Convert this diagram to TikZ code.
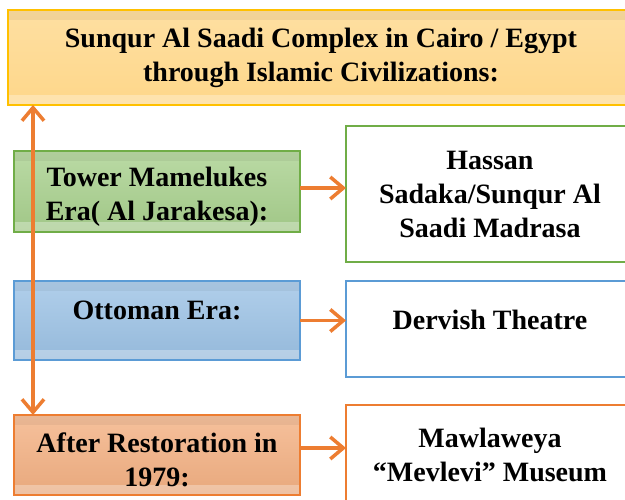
\documentclass[tikz,border=0pt]{standalone}
\usepackage{fontspec}
\setmainfont{Liberation Serif}
\usepackage{tikz}
\usetikzlibrary{arrows.meta}

\definecolor{goldfill}{HTML}{FED78A}
\definecolor{goldline}{HTML}{FFC000}
\definecolor{greenfill}{HTML}{A9D18E}
\definecolor{greenline}{HTML}{70AD47}
\definecolor{bluefill}{HTML}{9DC3E6}
\definecolor{blueline}{HTML}{5B9BD5}
\definecolor{orangefill}{HTML}{F4B183}
\definecolor{orangeline}{HTML}{ED7D31}

\begin{document}
\begin{tikzpicture}[x=1pt, y=-1pt, >={Straight Barb[length=13pt,width=22pt]},
  every node/.style={rectangle, draw, align=center, inner sep=0pt, outer sep=0pt, font=\bfseries\fontsize{28}{34}\selectfont},
  bands/.style={path picture={
    \fill [black, opacity=0.05] (path picture bounding box.north west) rectangle ([yshift=-10pt]path picture bounding box.north east);
    \fill [white, opacity=0.3] ([yshift=10pt]path picture bounding box.south west) rectangle (path picture bounding box.south east);}},
  era/.style={bands, minimum width=286pt, line width=1.2pt},
  site/.style={minimum width=288pt, fill=white, line width=2.5pt},
  link/.style={->, draw=orangeline, line width=3.5pt}]
  \useasboundingbox (0,0) rectangle (625,500);
  \node (title) [bands, top color=goldfill!80!white, bottom color=goldfill, draw=goldline, line width=1.2pt, minimum width=626pt, minimum height=95pt] at (321,57.5) {Sunqur Al Saadi Complex in Cairo / Egypt\\through Islamic Civilizations:};
  \node (tower) [era, top color=greenfill!80!white, bottom color=greenfill!95!black, draw=greenline, minimum height=81pt] at (157,191.5) {\raisebox{-5pt}[\height][\depth]{\parbox{280pt}{\centering Tower Mamelukes\\Era( Al Jarakesa):}}};
  \node (ottoman) [era, top color=bluefill!80!white, bottom color=bluefill!95!black, draw=blueline, minimum height=79pt] at (157,320.5) {\raisebox{10pt}[\height][\depth]{Ottoman Era:}};
  \node (after) [era, top color=orangefill!80!white, bottom color=orangefill!95!black, draw=orangeline, minimum height=80pt] at (157,455) {\raisebox{-5pt}[\height][\depth]{\parbox{280pt}{\centering After Restoration in\\1979:}}};
  \node (hassan) [site, draw=greenline, minimum height=136pt] at (490,194) {Hassan\\Sadaka/Sunqur Al\\Saadi Madrasa};
  \node (dervish) [site, draw=blueline, minimum height=96pt] at (490,329) {\raisebox{9pt}[\height][\depth]{Dervish Theatre}};
  \node (museum) [site, draw=orangeline, minimum height=100pt] at (490,455) {Mawlaweya\\``Mevlevi'' Museum};
  \draw [link] ([yshift=3.5pt]tower.east) -- ([yshift=3.5pt]tower.east -| hassan.west);
  \draw [link] (ottoman.east) -- (ottoman.east -| dervish.west);
  \draw [link] ([yshift=7pt]after.east) -- ([yshift=7pt]after.east -| museum.west);
  \draw [link, <->] ([xshift=19pt]after.north west |- title.south) -- ([xshift=19pt]after.north west);
\end{tikzpicture}
\end{document}
